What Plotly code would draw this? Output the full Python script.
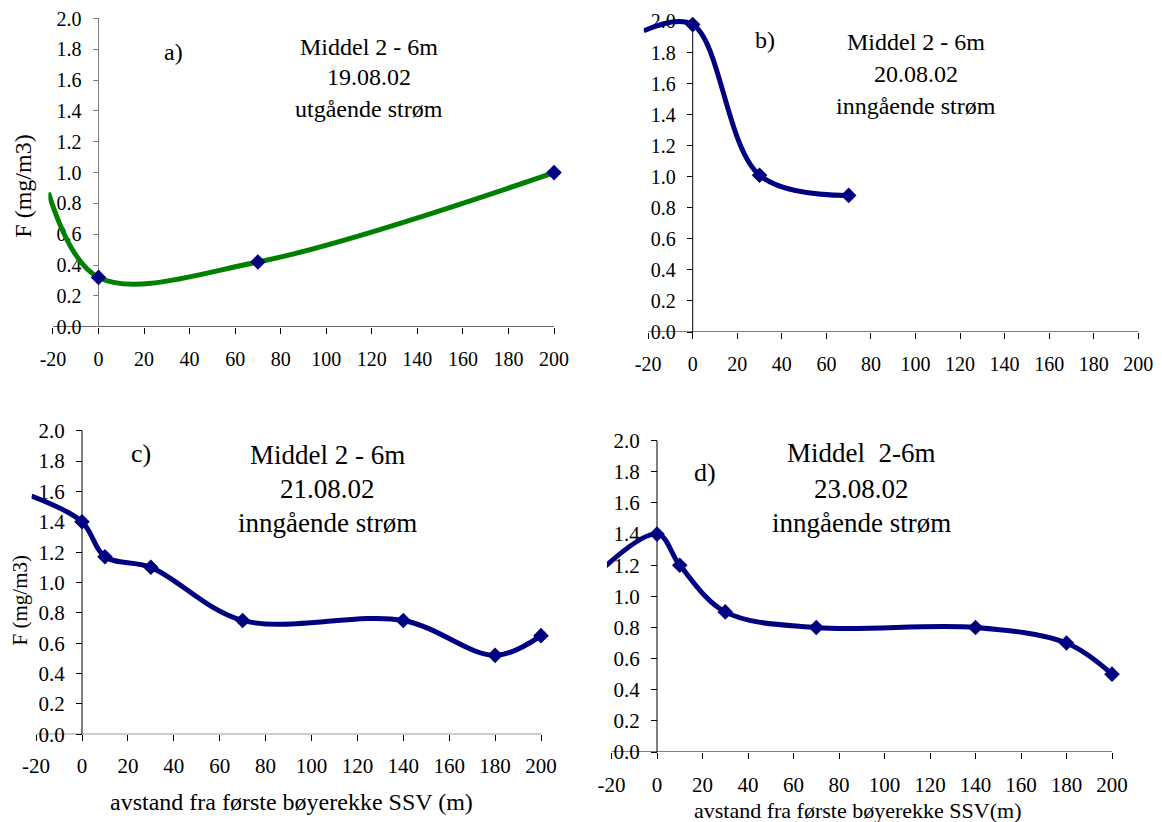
import plotly.graph_objects as go

# ---- data: mean chlorophyll F (mg/m3), 2-6 m, versus distance from first buoy row (m)
dist_a = [0, 70, 200]
f_a = [0.32, 0.42, 1.00]

dist_b = [0, 30, 70]
f_b = [1.98, 1.01, 0.88]

dist_c = [0, 10, 30, 70, 140, 180, 200]
f_c = [1.40, 1.17, 1.10, 0.75, 0.75, 0.52, 0.65]

dist_d = [0, 10, 30, 70, 140, 180, 200]
f_d = [1.40, 1.20, 0.90, 0.80, 0.80, 0.70, 0.50]

# first point of each smoothed line (drawn without a marker, cut at the plot edge)
lead_dist = [-22, -22, -22, -40]
lead_f = [0.87, 1.94, 1.57, 0.95]

x_ticks = list(range(-20, 201, 20))
x_tick_text = ["-20", "0", "20", "40", "60", "80", "100", "120", "140", "160", "180", "200"]
y_ticks = [round(0.2 * i, 1) for i in range(11)]

panel_labels = ["a)", "b)", "c)", "d)"]
panel_titles = [
    ["Middel 2 - 6m", "19.08.02", "utgående strøm"],
    ["Middel 2 - 6m", "20.08.02", "inngående strøm"],
    ["Middel 2 - 6m", "21.08.02", "inngående strøm"],
    ["Middel  2-6m", "23.08.02", "inngående strøm"],
]
y_title = "F (mg/m3)"
x_titles = ["avstand fra første bøyerekke SSV (m)", "avstand fra første bøyerekke SSV(m)"]

W, H = 1162, 822
FONT = "Liberation Serif"
NAVY = "#000080"
GREEN = "#008000"

# pixel placement of each panel: x=0, x=200, y=0, y=2.0
geom = [
    (98.5, 554.0, 326.7, 18.5),
    (692.7, 1138.3, 332.0, 21.5),
    (82.0, 541.0, 734.3, 430.7),
    (657.0, 1112.0, 752.0, 440.7),
]
XR = [-22, 203]
YR = [0, 2.06]
x_label_gap = [8, 8, 6, 8]

series = [(dist_a, f_a, GREEN), (dist_b, f_b, NAVY), (dist_c, f_c, NAVY), (dist_d, f_d, NAVY)]

fig = go.Figure()
layout = dict(
    template="none",
    width=W, height=H, margin=dict(l=0, r=0, t=0, b=0, pad=0, autoexpand=False),
    paper_bgcolor="white", plot_bgcolor="white", showlegend=False,
    font=dict(family=FONT, color="black"),
)
shapes = []
annotations = []


def px(x):
    return x / W


def py(y):
    return 1 - y / H


for i, ((dx, fy, col), (x0, x200, y0, y2)) in enumerate(zip(series, geom)):
    n = i + 1
    xa = "x" if n == 1 else f"x{n}"
    ya = "y" if n == 1 else f"y{n}"
    kx = (x200 - x0) / 200.0
    ky = (y0 - y2) / 2.0
    left = x0 + XR[0] * kx
    right = x0 + XR[1] * kx
    top = y0 - YR[1] * ky
    tick_size = 20 if i < 2 else 21

    layout["xaxis" if n == 1 else f"xaxis{n}"] = dict(
        domain=[px(left), px(right)], range=XR, anchor=ya, automargin=False,
        showgrid=False, zeroline=False, showline=False,
        ticks="outside", ticklen=6, tickcolor="black", tickwidth=1,
        tickvals=x_ticks, ticktext=x_tick_text, ticklabelstandoff=x_label_gap[i],
        tickfont=dict(family=FONT, size=tick_size, color="black"),
        fixedrange=True,
    )
    ycol = "#808080" if i == 0 else "black"
    layout["yaxis" if n == 1 else f"yaxis{n}"] = dict(
        domain=[py(y0), py(top)], range=YR, anchor="free", position=px(x0), automargin=False,
        showgrid=False, zeroline=False, showline=False,
        ticks="outside", ticklen=6, tickcolor=ycol, tickwidth=1,
        tickvals=y_ticks, tickformat=".1f", ticklabelstandoff=7,
        tickfont=dict(family=FONT, size=tick_size, color="black"),
        layer="below traces", fixedrange=True,
    )
    # axis lines: x from -20 to 200 at F=0, y from 0 to 2.0 at distance 0
    shapes.append(dict(type="line", xref=xa, yref=ya, x0=-20, x1=200, y0=0, y1=0,
                       line=dict(color="black", width=1), layer="below"))
    shapes.append(dict(type="line", xref=xa, yref=ya, x0=0, x1=0, y0=0, y1=2.0,
                       line=dict(color=ycol, width=1), layer="below"))

    # smoothed line including its leading point
    fig.add_trace(go.Scatter(
        x=[lead_dist[i]] + dx, y=[lead_f[i]] + fy, xaxis=xa, yaxis=ya,
        mode="lines", line=dict(color=col, width=5, shape="spline", smoothing=1.0),
        hoverinfo="skip",
    ))
    # measured stations
    fig.add_trace(go.Scatter(
        x=dx, y=fy, xaxis=xa, yaxis=ya, mode="markers",
        marker=dict(symbol="diamond", size=12, color=NAVY, line=dict(width=0)),
        cliponaxis=False,
    ))

# panel letters
label_pos = [(173.6, 51.7, 24), (764.8, 40.0, 24), (140.5, 453.3, 26), (705.3, 472.7, 26)]
for lab, (x, y, s) in zip(panel_labels, label_pos):
    annotations.append(dict(text=lab, x=px(x), y=py(y), xref="paper", yref="paper",
                            showarrow=False, xanchor="center", yanchor="middle",
                            font=dict(family=FONT, size=s, color="black")))

# three-line headings
title_pos = [
    (368.8, [46.7, 77.3, 109.0], 24),
    (916.4, [41.7, 74.0, 106.0], 24),
    (327.0, [455.0, 489.3, 523.3], 27),
    (861.4, [453.3, 489.3, 522.7], 27),
]
for lines, (x, ys, s) in zip(panel_titles, title_pos):
    for t, y in zip(lines, ys):
        annotations.append(dict(text=t, x=px(x), y=py(y), xref="paper", yref="paper",
                                showarrow=False, xanchor="center", yanchor="middle",
                                font=dict(family=FONT, size=s, color="black")))

# axis titles
for (x, y, s) in [(23.0, 186.7, 24), (20.4, 600.0, 21)]:
    annotations.append(dict(text=y_title, x=px(x), y=py(y), xref="paper", yref="paper",
                            showarrow=False, textangle=-90, xanchor="center", yanchor="middle",
                            font=dict(family=FONT, size=s, color="black")))
for t, (x, y, s) in zip(x_titles, [(291.8, 801.7, 24), (857.0, 810.5, 22)]):
    annotations.append(dict(text=t, x=px(x), y=py(y), xref="paper", yref="paper",
                            showarrow=False, xanchor="center", yanchor="middle",
                            font=dict(family=FONT, size=s, color="black")))

layout["shapes"] = shapes
layout["annotations"] = annotations
fig.update_layout(**layout)
fig.write_html("out.html")
